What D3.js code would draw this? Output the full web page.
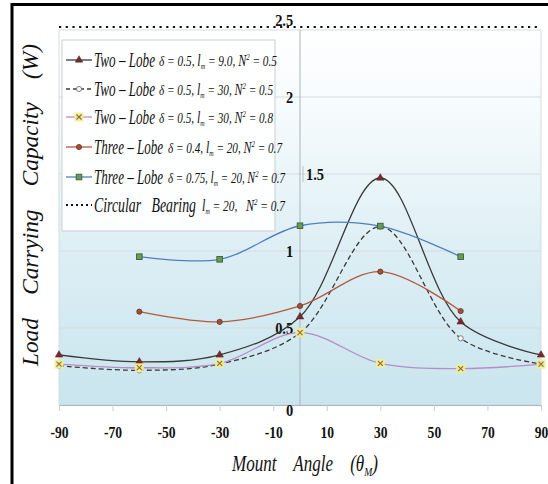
<!DOCTYPE html>
<html><head><meta charset="utf-8">
<script src="https://cdn.jsdelivr.net/npm/d3@7"></script>
<style>html,body{margin:0;padding:0;background:#fff;}svg{display:block;}.pre{white-space:pre;}</style>
</head><body>
<svg id="c" width="548" height="484"></svg>
<script>
// ---- data ----
const anglesFull = [-90, -60, -30, 0, 30, 60, 90];
const anglesThree = [-60, -30, 0, 30, 60];
const twoLobeA = [0.325, 0.28, 0.325, 0.573, 1.474, 0.54, 0.325];   // δ=0.5, lm=9.0, N²=0.5
const twoLobeB = [0.255, 0.225, 0.266, 0.468, 1.158, 0.433, 0.266]; // δ=0.5, lm=30, N²=0.5
const twoLobeC = [0.266, 0.242, 0.27, 0.47, 0.27, 0.236, 0.266];    // δ=0.5, lm=30, N²=0.8
const threeLobeA = [0.606, 0.54, 0.643, 0.866, 0.61];               // δ=0.4
const threeLobeB = [0.963, 0.946, 1.164, 1.162, 0.963];             // δ=0.75
const circular = 2.455;
const xTickValues = [-90, -70, -50, -30, -10, 10, 30, 50, 70, 90];
const yTickValues = [0, 0.5, 1, 1.5, 2, 2.5];
const yTickLabels = ["0", "0.5", "1", "1.5", "2", "2.5"];
const legendNames = ["Two – Lobe", "Two – Lobe", "Two – Lobe", "Three – Lobe", "Three – Lobe", "Circular   Bearing"];
const legendParams = [
  ["δ = 0.5, ", "l", "m", " = 9.0, ", "N", "2", " = 0.5"],
  ["δ = 0.5, ", "l", "m", " = 30, ", "N", "2", " = 0.5"],
  ["δ = 0.5, ", "l", "m", " = 30, ", "N", "2", " = 0.8"],
  ["δ = 0.4, ", "l", "m", " = 20, ", "N", "2", " = 0.7"],
  ["δ = 0.75, ", "l", "m", " = 20, ", "N", "2", " = 0.7"],
  ["", "l", "m", " = 20,   ", "N", "2", " = 0.7"]
];

const svg = d3.select("#c");
const serif = "Liberation Serif, DejaVu Serif, serif";
const x = d3.scaleLinear().domain([-90, 90]).range([59, 541]);
const y = d3.scaleLinear().domain([0, 2.5]).range([405, 20]);
const plotTop = 30;

// outer border (left & top visible)
svg.append("line").attr("x1", 12).attr("x2", 12).attr("y1", 3).attr("y2", 484).attr("stroke", "#000").attr("stroke-width", 3);
svg.append("line").attr("x1", 11).attr("x2", 548).attr("y1", 4.5).attr("y2", 4.5).attr("stroke", "#000").attr("stroke-width", 3);

// background gradient
const defs = svg.append("defs");
const g = defs.append("linearGradient").attr("id", "bg").attr("x1", 0).attr("x2", 0).attr("y1", 0).attr("y2", 1);
g.append("stop").attr("offset", "0%").attr("stop-color", "#ffffff");
g.append("stop").attr("offset", "25%").attr("stop-color", "#f4fafc");
g.append("stop").attr("offset", "60%").attr("stop-color", "#dceef4");
g.append("stop").attr("offset", "100%").attr("stop-color", "#c9e5ee");
svg.append("rect").attr("x", x(-90)).attr("y", plotTop).attr("width", x(90) - x(-90)).attr("height", y(0) - plotTop)
  .attr("fill", "url(#bg)").attr("stroke", "#d5dde0").attr("stroke-width", 1);

// gridlines
svg.append("g").selectAll("line").data([0.5, 1, 1.5, 2]).join("line")
  .attr("x1", x(-90)).attr("x2", x(90)).attr("y1", d => y(d)).attr("y2", d => y(d))
  .attr("stroke", "#d3dde1").attr("stroke-width", 1);

// x axis
const xAxis = d3.axisBottom(x).tickValues(xTickValues).tickSize(6).tickFormat(d => String(d));
const xa = svg.append("g").attr("transform", `translate(0,${y(0)})`).call(xAxis);
xa.select(".domain").attr("stroke", "#a8b6bb");
xa.selectAll(".tick line").attr("stroke", "#c8d0d3");
xa.selectAll(".tick text").attr("font-family", serif).attr("font-weight", "bold").attr("font-size", 17)
  .attr("fill", "#111").attr("y", 33).attr("dy", 0).attr("transform", "scale(0.8,1)");

// y axis at x=0
const yAxis = d3.axisLeft(y).tickValues(yTickValues).tickSize(0).tickFormat((d, i) => yTickLabels[i]);
const ya = svg.append("g").attr("transform", `translate(${x(0)},0)`).call(yAxis);
ya.select(".domain").remove();
ya.selectAll(".tick text").attr("font-family", serif).attr("font-weight", "bold").attr("font-size", 17)
  .attr("fill", "#111").attr("x", -8).attr("transform", "scale(0.85,1)");
ya.selectAll(".tick").filter(d => d === 1.5).select("text").attr("text-anchor", "start").attr("x", 7);
ya.selectAll(".tick").filter(d => d === 0).select("text").attr("dy", "0.6em");
svg.append("line").attr("x1", x(0)).attr("x2", x(0)).attr("y1", plotTop).attr("y2", y(0)).attr("stroke", "#a8b6bb");
svg.append("line").attr("x1", x(0) + 3).attr("x2", x(0) + 3).attr("y1", y(1.5) - 8).attr("y2", y(1.5) + 8).attr("stroke", "#b8c2c6");

// circular bearing dotted line
svg.append("line").attr("x1", x(-90)).attr("x2", x(90)).attr("y1", y(circular)).attr("y2", y(circular))
  .attr("stroke", "#111").attr("stroke-width", 2).attr("stroke-dasharray", "2.2,4.5");

// series
const curve = d3.curveCatmullRom.alpha(0.5);
const line = d3.line().x(d => x(d[0])).y(d => y(d[1])).curve(curve);
const series = [
  { xs: anglesFull, ys: twoLobeA, color: "#3a3a3a", dash: null, marker: "tri" },
  { xs: anglesFull, ys: twoLobeB, color: "#3a3a3a", dash: "5,3", marker: "ocircle" },
  { xs: anglesFull, ys: twoLobeC, color: "#b88cc4", dash: null, marker: "x" },
  { xs: anglesThree, ys: threeLobeA, color: "#b5583e", dash: null, marker: "circle" },
  { xs: anglesThree, ys: threeLobeB, color: "#4f7fc0", dash: null, marker: "square" }
];

function drawMarker(sel, type, cx, cy) {
  if (type === "tri") {
    sel.append("path").attr("d", d3.symbol(d3.symbolTriangle, 24)()).attr("transform", `translate(${cx},${cy})`)
      .attr("fill", "#7a2a2e").attr("stroke", "#4a1a1a").attr("stroke-width", 0.5);
  } else if (type === "ocircle") {
    sel.append("circle").attr("cx", cx).attr("cy", cy).attr("r", 2.6).attr("fill", "#f4f4f4").attr("stroke", "#777").attr("stroke-width", 0.9);
  } else if (type === "x") {
    sel.append("rect").attr("x", cx - 4.5).attr("y", cy - 4.5).attr("width", 9).attr("height", 9).attr("fill", "#f3ee8c").attr("opacity", 0.9);
    sel.append("path").attr("d", `M${cx - 2.5},${cy - 2.5}L${cx + 2.5},${cy + 2.5}M${cx - 2.5},${cy + 2.5}L${cx + 2.5},${cy - 2.5}`)
      .attr("stroke", "#8a6a4a").attr("stroke-width", 1.1);
  } else if (type === "circle") {
    sel.append("circle").attr("cx", cx).attr("cy", cy).attr("r", 2.6).attr("fill", "#a4503a").attr("stroke", "#6a3020").attr("stroke-width", 0.8);
  } else if (type === "square") {
    sel.append("rect").attr("x", cx - 2.8).attr("y", cy - 2.8).attr("width", 5.6).attr("height", 5.6).attr("fill", "#6a9a58").attr("stroke", "#3d5e34").attr("stroke-width", 0.9);
  }
}

const sg = svg.append("g");
series.forEach(s => {
  const pts = s.xs.map((a, i) => [a, s.ys[i]]);
  sg.append("path").attr("d", line(pts)).attr("fill", "none").attr("stroke", s.color).attr("stroke-width", 1.3)
    .attr("stroke-dasharray", s.dash);
});
series.forEach(s => {
  s.xs.forEach((a, i) => drawMarker(sg, s.marker, x(a), y(s.ys[i])));
});

// legend
const lg = svg.append("g");
lg.append("rect").attr("x", 62).attr("y", 40).attr("width", 213).attr("height", 191)
  .attr("fill", "#ffffff").attr("fill-opacity", 0.92).attr("stroke", "#c9cfd2");
const legendY = [60, 89, 117, 147, 177, 205];
const legendSeries = [
  { color: "#3a3a3a", dash: null, marker: "tri" },
  { color: "#3a3a3a", dash: "4,3", marker: "ocircle" },
  { color: "#b88cc4", dash: null, marker: "x" },
  { color: "#b5583e", dash: null, marker: "circle" },
  { color: "#4f7fc0", dash: null, marker: "square" },
  { color: "#111", dash: "2,3", marker: null }
];
const nameEnd = [155, 155, 155, 163, 163, 196];
const paramStart = [159, 159, 159, 168, 168, 202];
const paramEnd = [277, 273, 273, 282, 285, 285];
legendY.forEach((ly, i) => {
  const s = legendSeries[i];
  lg.append("line").attr("x1", 66).attr("x2", 92).attr("y1", ly).attr("y2", ly).attr("stroke", s.color)
    .attr("stroke-width", i === 5 ? 1.8 : 1.3).attr("stroke-dasharray", s.dash);
  if (s.marker) drawMarker(lg, s.marker, 79, ly);
  lg.append("text").attr("class", "pre").attr("x", 94).attr("y", ly + 7).attr("font-family", serif).attr("font-style", "italic")
    .attr("font-size", 21).attr("fill", "#111").attr("textLength", nameEnd[i] - 94).attr("lengthAdjust", "spacingAndGlyphs")
    .text(legendNames[i]);
  const p = legendParams[i];
  const t = lg.append("text").attr("class", "pre").attr("x", paramStart[i]).attr("y", ly + 6).attr("font-family", serif).attr("font-style", "italic")
    .attr("font-size", 15).attr("fill", "#111").attr("textLength", paramEnd[i] - paramStart[i]).attr("lengthAdjust", "spacingAndGlyphs");
  if (p[0]) t.append("tspan").text(p[0]);
  t.append("tspan").attr("font-size", 16).text(p[1]);
  t.append("tspan").attr("font-size", 8).attr("dy", 3).text(p[2]);
  t.append("tspan").attr("dy", -3).text(p[3]);
  t.append("tspan").attr("font-size", 16).text(p[4]);
  t.append("tspan").attr("font-size", 9).attr("dy", -6).text(p[5]);
  t.append("tspan").attr("dy", 6).text(p[6]);
});

// axis titles
svg.append("text").attr("class", "pre").attr("transform", "translate(38,205) rotate(-90)").attr("text-anchor", "middle")
  .attr("font-family", serif).attr("font-style", "italic").attr("font-size", 23).attr("fill", "#111")
  .attr("textLength", 322).attr("lengthAdjust", "spacingAndGlyphs")
  .text("Load    Carrying    Capacity    (W)");
const xt = svg.append("text").attr("class", "pre").attr("x", 232).attr("y", 471)
  .attr("font-family", serif).attr("font-style", "italic").attr("font-size", 23).attr("fill", "#111")
  .attr("textLength", 146).attr("lengthAdjust", "spacingAndGlyphs");
xt.append("tspan").text("Mount    Angle    (θ");
xt.append("tspan").attr("font-size", 13).attr("dy", 5).text("M");
xt.append("tspan").attr("dy", -5).text(")");
</script>
</body></html>
